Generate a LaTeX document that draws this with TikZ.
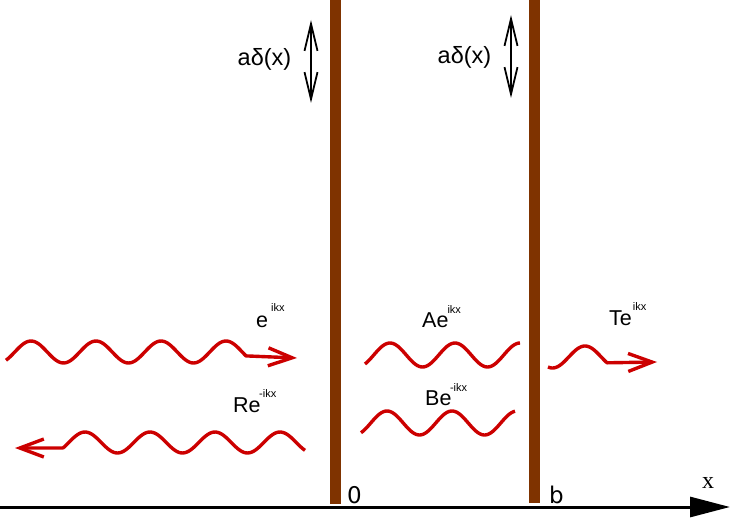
\documentclass[tikz,border=0pt]{standalone}
\usepackage{fontspec}
\setmainfont{Liberation Sans}
\newfontfamily\dejavufont{DejaVu Sans}
\newfontfamily\seriffont{Liberation Serif}
\usetikzlibrary{arrows.meta}
\definecolor{wallbrown}{RGB}{127,51,0}
\definecolor{wavered}{RGB}{204,0,0}
\newcommand{\wlab}[4]{{\fontsize{21.5}{21.5}\selectfont #1}\kern#3\raisebox{#4}{\fontsize{11}{11}\selectfont #2}}
\begin{document}
\begin{tikzpicture}[x=1pt,y=-1pt,
  wall/.style={fill=wallbrown},
  wave/.style={draw=wavered,line width=3.4pt,line join=round},
  redtip/.style={-{Straight Barb[length=24pt,width=18pt]}},
  redtipback/.style={{Straight Barb[length=24pt,width=18pt]}-},
  dblarrow/.style={line width=1.8pt,{Straight Barb[length=27pt,width=13pt]}-{Straight Barb[length=27pt,width=13pt]}},
  lab/.style={inner sep=0pt,anchor=base west},
  dlab/.style={inner sep=0pt,font=\fontsize{23.5}{23.5}\selectfont}]
\useasboundingbox (0,0) rectangle (737,519);
% walls
\fill[wall] (330,0) rectangle (341,504);
\fill[wall] (529,0) rectangle (540,503);
% axis
\coordinate (axs) at (0,507);
\coordinate (axe) at (730,507);
\draw[line width=3pt,-{Triangle[length=40pt,width=20pt]}] (axs) -- (axe);
\node[lab,font=\seriffont\fontsize{24}{24}\selectfont] (xl) at (702,488) {x};
\node[lab,font=\dejavufont\fontsize{23}{23}\selectfont] (zero) at (347,503) {0};
\node[lab,font=\dejavufont\fontsize{23}{23}\selectfont] (bl) at (549,503) {b};
% delta labels and arrows
\node[dlab] (d1) at (264.5,59) {aδ(x)};
\node[dlab] (d2) at (464.5,57) {aδ(x)};
\coordinate (a1t) at (311,20);
\coordinate (a1b) at (311,103);
\coordinate (a2t) at (511,15);
\coordinate (a2b) at (511,98);
\draw[dblarrow] (a1t) -- (a1b);
\draw[dblarrow] (a2t) -- (a2b);
% waves
\coordinate (w1e) at (297,358);
\draw[wave,redtip] plot[domain=6:246,samples=120] (\x,{352-11*sin((\x-14.75)/65*360)}) -- (w1e);
\coordinate (w2e) at (15,448);
\draw[wave,redtipback] (w2e) -- (63,448) -- plot[domain=63:305,samples=120] (\x,{442.5-10.5*sin((\x-68.75)/65*360)});
\draw[wave] plot[domain=365:520,samples=90] (\x,{355-12*sin((\x-373.75)/65*360)});
\draw[wave] plot[domain=361:515,samples=90] (\x,{423-12*sin((\x-370.75)/65*360)});
\coordinate (w5e) at (657,362);
\draw[wave,redtip] plot[domain=548:607,samples=50] (\x,{357-11*sin((\x-568.75)/65*360)}) -- (w5e);
% wave labels
\node[lab] (l1) at (256,327) {\wlab{e}{ikx}{3pt}{16pt}};
\node[lab] (l2) at (233,412) {\wlab{Re}{-ikx}{-1.5pt}{15pt}};
\node[lab] (l3) at (422,327) {\wlab{Ae}{ikx}{-1pt}{14pt}};
\node[lab] (l4) at (425,405) {\wlab{Be}{-ikx}{-1.5pt}{14pt}};
\node[lab] (l5) at (609,325) {\wlab{Te}{ikx}{1pt}{15pt}};
\end{tikzpicture}
\end{document}
